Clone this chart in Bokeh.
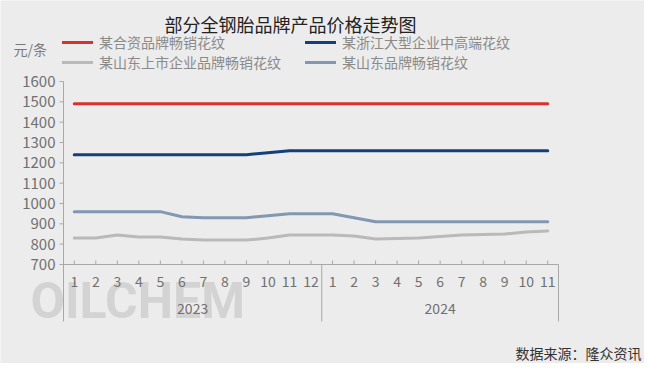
from bokeh.plotting import figure
from bokeh.models import Range1d, Legend, LegendItem, Label
from bokeh.embed import file_html
from bokeh.resources import INLINE
from bokeh.core.properties import value

# ---------------- data ----------------
title_text = "部分全钢胎品牌产品价格走势图"
unit_text = "元/条"
source_text = "数据来源：隆众资讯"
watermark_text = "OILCHEM"

years = ["2023", "2024"]
months_2023 = ["1", "2", "3", "4", "5", "6", "7", "8", "9", "10", "11", "12"]
months_2024 = ["1", "2", "3", "4", "5", "6", "7", "8", "9", "10", "11"]

series_names = ["某合资品牌畅销花纹", "某浙江大型企业中高端花纹",
                "某山东上市企业品牌畅销花纹", "某山东品牌畅销花纹"]

jv_brand = [1490, 1490, 1490, 1490, 1490, 1490, 1490, 1490, 1490, 1490, 1490, 1490,
            1490, 1490, 1490, 1490, 1490, 1490, 1490, 1490, 1490, 1490, 1490]
zhejiang_brand = [1240, 1240, 1240, 1240, 1240, 1240, 1240, 1240, 1240, 1250, 1260, 1260,
                  1260, 1260, 1260, 1260, 1260, 1260, 1260, 1260, 1260, 1260, 1260]
shandong_listed = [830, 830, 845, 835, 835, 825, 820, 820, 820, 830, 845, 845,
                   845, 840, 825, 828, 830, 838, 845, 848, 850, 860, 865]
shandong_brand = [960, 960, 960, 960, 960, 935, 930, 930, 930, 940, 950, 950,
                  950, 930, 910, 910, 910, 910, 910, 910, 910, 910, 910]

y_ticks = [700, 800, 900, 1000, 1100, 1200, 1300, 1400, 1500, 1600]

colors = ["#d8312f", "#133f7c", "#b9b9b9", "#8197b2"]

# ---------------- layout ----------------
FONT = "Noto Sans CJK SC"
BG = "#ececec"
AX = "#a8a8a8"
LBL = "#707070"
W, H = 644, 363
# plot area in canvas pixels (left, right, top, bottom of value axis)
PL, PR, PT, PB = 63, 558, 81, 264
month_labels = months_2023 + months_2024
n = len(month_labels)
xs = list(range(n))
xa, xb = -0.5, n - 0.5
ya_, yb = y_ticks[0], y_ticks[-1]
xpp = (xb - xa) / (PR - PL)
ypp = (yb - ya_) / (PB - PT)


def dx(px):
    return xa + (px - PL) * xpp


def dy(py):
    return yb - (py - PT) * ypp


p = figure(width=W, height=H, output_backend="svg", toolbar_location=None,
           x_range=Range1d(dx(0), dx(W)), y_range=Range1d(dy(H), dy(0)),
           x_axis_location=None, y_axis_location=None,
           min_border=0, min_border_left=0, min_border_right=0,
           min_border_top=0, min_border_bottom=0,
           background_fill_color=BG, border_fill_color=BG,
           outline_line_color=None)
p.grid.visible = False

base = y_ticks[0]
axis_bottom = dy(321)

# watermark
p.add_layout(Label(x=dx(30), y=dy(300), text=watermark_text,
                   text_font="Roboto", text_font_style="bold",
                   text_font_size="50px", text_color="#c9c9c9", text_alpha=0.7,
                   text_align="left", text_baseline="middle", level="underlay"))

# y axis (line, ticks, labels)
p.segment(x0=[xa], y0=[axis_bottom], x1=[xa], y1=[y_ticks[-1]], line_color=AX, line_width=1)
p.segment(x0=[xa - 4 * xpp] * len(y_ticks), y0=y_ticks, x1=[xa] * len(y_ticks), y1=y_ticks,
          line_color=AX, line_width=1)
p.text(x=[xa] * len(y_ticks), y=y_ticks, text=[str(v) for v in y_ticks],
       text_align="right", text_baseline="middle", x_offset=-8,
       text_font=value(FONT), text_font_size="15px", text_color=LBL)

# x axis line, ticks, group separators
p.segment(x0=[xa], y0=[base], x1=[xb], y1=[base], line_color=AX, line_width=1)
p.segment(x0=xs, y0=[base] * n, x1=xs, y1=[base + 4 * ypp] * n, line_color=AX, line_width=1)
sep = len(months_2023) - 0.5
p.segment(x0=[sep, xb], y0=[axis_bottom] * 2, x1=[sep, xb], y1=[base] * 2,
          line_color=AX, line_width=1)

p.text(x=xs, y=[base] * n, text=month_labels, text_align="center", text_baseline="middle",
       y_offset=17, text_font=value(FONT), text_font_size="14px", text_color=LBL)
year_x = [(len(months_2023) - 1) / 2, len(months_2023) + (len(months_2024) - 1) / 2]
p.text(x=year_x, y=[base] * 2, text=years, text_align="center", text_baseline="middle",
       y_offset=44, text_font=value(FONT), text_font_size="14px", text_color=LBL)

# series
renderers = []
for vals, c in zip([jv_brand, zhejiang_brand, shandong_listed, shandong_brand], colors):
    r = p.line(xs, vals, line_color=c, line_width=3, line_join="round", line_cap="round")
    renderers.append(r)


def make_legend(idx, left, bottom):
    return Legend(items=[LegendItem(label=series_names[i], renderers=[renderers[i]]) for i in idx],
                  location=(left, H - bottom), orientation="vertical",
                  glyph_width=31, glyph_height=16,
                  label_standoff=6, spacing=0, padding=0, margin=0, label_height=16,
                  border_line_color=None, background_fill_alpha=0,
                  label_text_font=FONT, label_text_font_size="14px",
                  label_text_color="#8a8a8a")


p.add_layout(make_legend([0, 2], 62, 72))
p.add_layout(make_legend([1, 3], 305, 72))

# title, unit, source
p.add_layout(Label(x=dx(290), y=dy(23), text=title_text, text_align="center",
                   text_baseline="middle", text_font=FONT, text_font_size="18px",
                   text_color="#222222"))
p.add_layout(Label(x=dx(13), y=dy(48), text=unit_text, text_align="left",
                   text_baseline="middle", text_font=FONT, text_font_size="14px",
                   text_color="#7a7a7a"))
p.add_layout(Label(x=dx(641), y=dy(352), text=source_text, text_align="right",
                   text_baseline="middle", text_font=FONT, text_font_size="14px",
                   text_color="#333333"))

open("out.html", "w").write(file_html(p, INLINE))
